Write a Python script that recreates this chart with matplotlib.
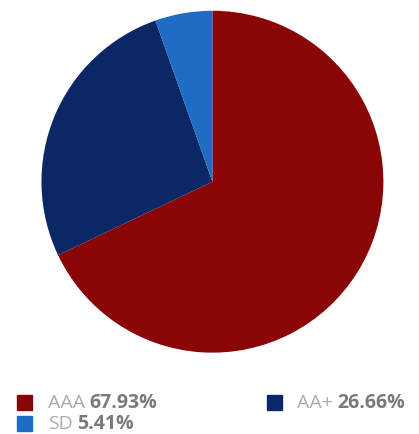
import matplotlib
matplotlib.use("Agg")
import matplotlib.pyplot as plt
from matplotlib.patches import Rectangle

# rating shares
ratings = ["AAA", "AA+", "SD"]
shares = [67.93, 26.66, 5.41]
colors = ["#8a0606", "#0b2766", "#1f6cc4"]

plt.rcParams["font.family"] = ["Open Sans", "DejaVu Sans"]

fig = plt.figure(figsize=(4.19, 4.35), dpi=100)
ax = fig.add_axes([0.099, 0.187, 0.816, 0.786])
ax.pie(shares, colors=colors, startangle=90, counterclock=False,
       wedgeprops=dict(linewidth=0))
ax.set_xlim(-1, 1)
ax.set_ylim(-1, 1)
ax.set_aspect("equal")

W, H = 419, 435
# legend laid out row by row: (square x, text x, row center y) in pixels from top-left
slots = [(17, 48, 403), (267, 297, 403), (17, 48, 424)]

fig.canvas.draw()
renderer = fig.canvas.get_renderer()
for name, val, col, (sx, tx, cy) in zip(ratings, shares, colors, slots):
    fig.patches.append(Rectangle((sx / W, (H - cy - 7.5) / H), 15 / W, 15 / H,
                                 transform=fig.transFigure, color=col))
    t = fig.text(tx / W, (H - cy) / H, name, color="#ababab",
                 fontsize=14, va="center", ha="left")
    bb = t.get_window_extent(renderer)
    fig.text((bb.x1 + 4) / W, (H - cy) / H, f"{val:.2f}%", color="#7a7a7a",
             fontsize=14, fontweight="bold", va="center", ha="left")

fig.savefig("out.png", dpi=100)
